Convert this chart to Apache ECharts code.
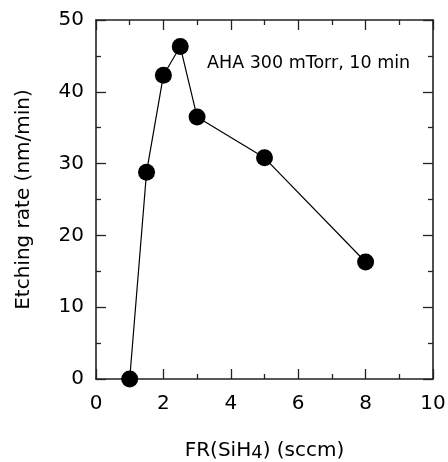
<!DOCTYPE html>
<html>
<head>
<meta charset="utf-8">
<script src="https://cdn.jsdelivr.net/npm/echarts@6/dist/echarts.min.js"></script>
<style>
  html, body { margin: 0; padding: 0; background: #fff; }
  #chart { width: 448px; height: 462px; }
</style>
</head>
<body>
<div id="chart"></div>
<script>
// SiH4 flow rate (sccm) and measured etching rate (nm/min)
const flowRate = [1, 1.5, 2, 2.5, 3, 5, 8];
const etchRate = [0, 28.8, 42.3, 46.3, 36.5, 30.8, 16.3];
const conditionNote = 'AHA 300 mTorr, 10 min';

const FONT = 'DejaVu Sans';
const INK = '#000';
const AXIS = '#222';

const tickStyle = { color: AXIS, width: 1.3 };

function xAxisDef(pos, withLabels) {
  return {
    type: 'value', position: pos, min: 0, max: 10, interval: 2,
    axisLine: { show: true, onZero: false, lineStyle: { color: AXIS, width: 1.6 } },
    axisTick: { show: true, inside: true, length: 10, lineStyle: tickStyle },
    minorTick: { show: true, splitNumber: 2, length: 5, lineStyle: tickStyle },
    axisLabel: { show: withLabels, margin: 15, color: INK, fontFamily: FONT, fontSize: 20 },
    splitLine: { show: false }
  };
}
function yAxisDef(pos, withLabels) {
  return {
    type: 'value', position: pos, min: 0, max: 50, interval: 10,
    axisLine: { show: true, onZero: false, lineStyle: { color: AXIS, width: 1.6 } },
    axisTick: { show: true, inside: true, length: 10, lineStyle: tickStyle },
    minorTick: { show: true, splitNumber: 2, length: 5, lineStyle: tickStyle },
    axisLabel: { show: withLabels, margin: 12, color: INK, fontFamily: FONT, fontSize: 20 },
    splitLine: { show: false }
  };
}

const xBottom = xAxisDef('bottom', true);
xBottom.name = '{a|FR(SiH}{s|4}{a|) (sccm)}';
xBottom.nameLocation = 'middle';
xBottom.nameGap = 60;
xBottom.nameTextStyle = {
  rich: {
    a: { fontFamily: FONT, fontSize: 20, color: INK },
    s: { fontFamily: FONT, fontSize: 18, color: INK, padding: [5, 0, 0, 0] }
  }
};

const yLeft = yAxisDef('left', true);
yLeft.name = 'Etching rate (nm/min)';
yLeft.nameLocation = 'middle';
yLeft.nameGap = 62;
yLeft.nameTextStyle = { fontFamily: FONT, fontSize: 20, color: INK };

const chart = echarts.init(document.getElementById('chart'), null, { renderer: 'canvas' });
chart.setOption({
  animation: false,
  backgroundColor: '#fff',
  grid: { left: 96, right: 15, top: 20, bottom: 83, containLabel: false, outerBoundsMode: 'none' },
  xAxis: [xBottom, xAxisDef('top', false)],
  yAxis: [yLeft, yAxisDef('right', false)],
  graphic: [{
    type: 'text', left: 207, top: 54,
    style: { text: conditionNote, fontFamily: FONT, fontSize: 17.5, fill: INK }
  }],
  series: [{
    type: 'line',
    xAxisIndex: 0, yAxisIndex: 0,
    data: flowRate.map((x, i) => [x, etchRate[i]]),
    symbol: 'circle', symbolSize: 17,
    clip: false,
    lineStyle: { color: INK, width: 1.2 },
    itemStyle: { color: '#000' }
  }]
});
</script>
</body>
</html>
